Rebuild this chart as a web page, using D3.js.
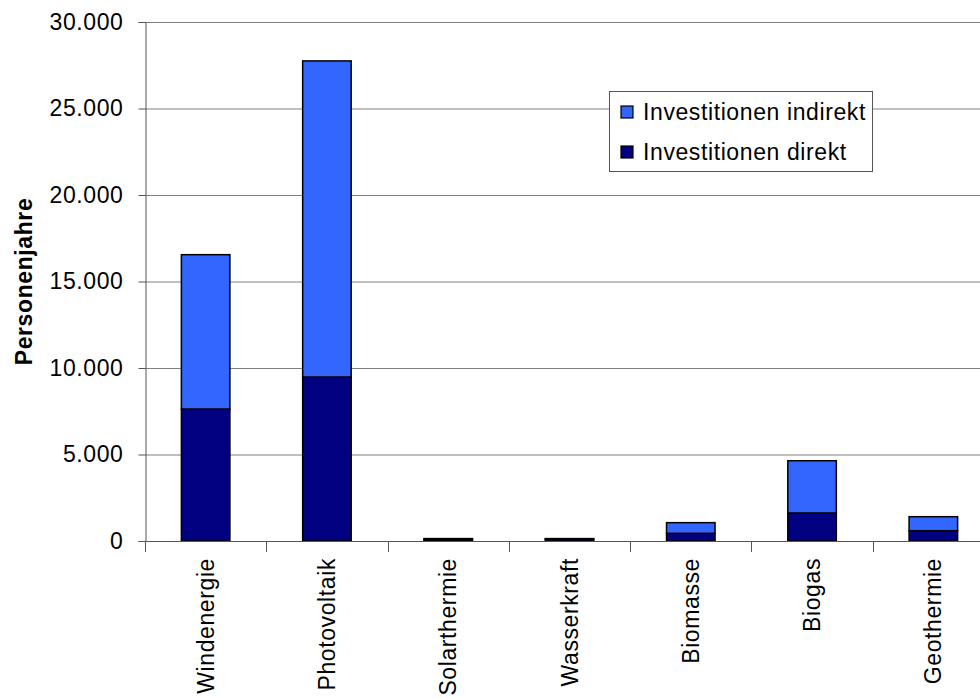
<!DOCTYPE html>
<html>
<head>
<meta charset="utf-8">
<script src="https://cdn.jsdelivr.net/npm/d3@7"></script>
<style>
  html, body { margin: 0; padding: 0; background: #ffffff; }
  svg { display: block; }
  text { font-family: "Liberation Sans", Arial, sans-serif; fill: #000; letter-spacing: 0.6px; }
</style>
</head>
<body>
<svg id="chart" width="980" height="698"></svg>
<script>
const categories = ["Windenergie", "Photovoltaik", "Solarthermie", "Wasserkraft", "Biomasse", "Biogas", "Geothermie"];
const direkt   = [7630, 9480, 90, 100, 445, 1620, 595];
const indirekt = [8920, 18270, 50, 40, 615, 3020, 810];
const seriesNames = ["Investitionen indirekt", "Investitionen direkt"];
const yTicks = [0, 5000, 10000, 15000, 20000, 25000, 30000];
const yTitle = "Personenjahre";

const colors = { indirekt: "#3366FF", direkt: "#000080" };
const fontSize = 23;

const svg = d3.select("#chart");
const mLeft = 145, mRight = 994, mTop = 22, mBottom = 541;

const x = d3.scaleBand().domain(categories).range([mLeft, mRight]);
const y = d3.scaleLinear().domain([0, 30000]).range([mBottom, mTop]);

const de = d3.formatLocale({ decimal: ",", thousands: ".", grouping: [3], currency: ["", " €"] });
const fmt = de.format(",d");

// gridlines
svg.append("g").selectAll("line").data(yTicks.filter(d => d > 0)).join("line")
  .attr("x1", mLeft).attr("x2", 980)
  .attr("y1", d => y(d) + 0.5).attr("y2", d => y(d) + 0.5)
  .attr("stroke", "#808080").attr("stroke-width", 1);

// stacked data
const rows = categories.map((c, i) => ({ cat: c, direkt: direkt[i], indirekt: indirekt[i] }));
const stack = d3.stack().keys(["direkt", "indirekt"])(rows);

const bw = x.step() / 2.5;
svg.append("g").selectAll("g").data(stack).join("g")
  .attr("fill", d => colors[d.key])
  .selectAll("rect").data(d => d).join("rect")
  .attr("x", d => x(d.data.cat) + x.step() / 2 - bw / 2)
  .attr("width", bw)
  .attr("y", d => y(d[1]))
  .attr("height", d => y(d[0]) - y(d[1]))
  .attr("stroke", "#000").attr("stroke-width", 1.5);

// y axis
const yAxis = d3.axisLeft(y).tickValues(yTicks).tickFormat(fmt).tickSize(7).tickPadding(15);
const gy = svg.append("g").attr("transform", `translate(${mLeft + 0.5},0)`).call(yAxis);
gy.select(".domain").attr("stroke", "#555");
gy.selectAll(".tick line").attr("stroke", "#555");
gy.selectAll(".tick text").style("font-size", fontSize + "px").attr("fill", "#000");

// x axis line + ticks at category boundaries
const bounds = categories.map(c => x(c)).concat([mRight]);
svg.append("line").attr("x1", mLeft).attr("x2", 980)
  .attr("y1", mBottom + 0.5).attr("y2", mBottom + 0.5).attr("stroke", "#555");
svg.append("g").selectAll("line").data(bounds).join("line")
  .attr("x1", d => Math.round(d) + 0.5).attr("x2", d => Math.round(d) + 0.5)
  .attr("y1", mBottom).attr("y2", mBottom + 11).attr("stroke", "#555");

// category labels
svg.append("g").selectAll("text").data(categories).join("text")
  .attr("transform", d => `translate(${x(d) + x.step() / 2},${mBottom + 17}) rotate(-90)`)
  .attr("text-anchor", "end").attr("dy", "0.35em")
  .style("font-size", fontSize + "px")
  .text(d => d);

// y title
svg.append("text")
  .attr("transform", `translate(24,${(mTop + mBottom) / 2}) rotate(-90)`)
  .attr("text-anchor", "middle").attr("dy", "0.35em")
  .style("font-size", fontSize + "px").style("font-weight", "bold")
  .text(yTitle);

// legend
const lg = svg.append("g");
lg.append("rect").attr("x", 609.5).attr("y", 91.5).attr("width", 263).attr("height", 80)
  .attr("fill", "#fff").attr("stroke", "#555");
const legendKeys = ["indirekt", "direkt"];
legendKeys.forEach((k, i) => {
  const cy = 112 + i * 40;
  lg.append("rect").attr("x", 621).attr("y", cy - 6).attr("width", 12).attr("height", 12)
    .attr("fill", colors[k]).attr("stroke", "#000").attr("stroke-width", 1.2);
  lg.append("text").attr("x", 643).attr("y", cy).attr("dy", "0.35em")
    .style("font-size", fontSize + "px").text(seriesNames[i]);
});
</script>
</body>
</html>
